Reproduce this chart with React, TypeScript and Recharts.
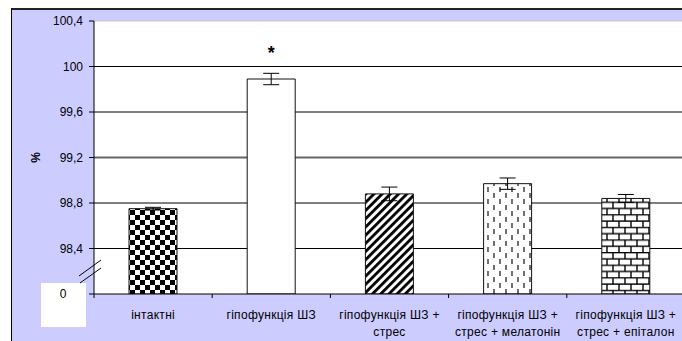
import { Bar, BarChart, CartesianGrid, Cell, ErrorBar, LabelList, XAxis, YAxis } from 'recharts';

const categories = [
  'інтактні',
  'гіпофункція ШЗ',
  'гіпофункція ШЗ +\nстрес',
  'гіпофункція ШЗ +\nстрес + мелатонін',
  'гіпофункція ШЗ +\nстрес + епіталон'
];
const means = [98.75, 99.89, 98.88, 98.97, 98.84];
const errors = [0.012, 0.05, 0.06, 0.05, 0.035];
const marks = ['', '*', '', '', ''];
const yTicks = [98, 98.4, 98.8, 99.2, 99.6, 100, 100.4];
const gridValues = [98.4, 98.8, 99.6, 100];
const fills = ['url(#check)', '#fff', 'url(#diag)', 'url(#dash)', 'url(#brick)'];

const data = categories.map((name, i) => ({ name, value: means[i], err: errors[i], mark: marks[i] }));

const font = 'Arial, "Liberation Sans", sans-serif';

function YTick(props: any) {
  const { x, y, payload } = props;
  // the broken axis: bottom value is shown as 0 in its own box
  if (payload.value === yTicks[0]) {
    return (
      <g>
        <rect x={x - 42} y={y - 11} width={45} height={44} fill="#fff" />
        <text x={x - 20} y={y} dy="0.35em" textAnchor="middle" fontSize={12} fontFamily={font} fill="#000">0</text>
        <line x1={x - 4} y1={y - 18} x2={x + 18} y2={y - 34} stroke="#000" />
        <line x1={x - 3} y1={y - 11} x2={x + 18} y2={y - 26} stroke="#000" />
      </g>
    );
  }
  const label = Number.isInteger(payload.value) ? String(payload.value) : payload.value.toFixed(1).replace('.', ',');
  return (
    <text x={x} y={y} dy="0.35em" textAnchor="end" fontSize={12} fontFamily={font} fill="#000">{label}</text>
  );
}

function XTick(props: any) {
  const { x, y, payload, width, visibleTicksCount } = props;
  const band = width / visibleTicksCount;
  const lines = String(payload.value).split('\n');
  return (
    <g>
      <line x1={x - band / 2} y1={y} x2={x - band / 2} y2={y + 4} stroke="#000" />
      <text x={x} y={y + 25} textAnchor="middle" fontSize={12} letterSpacing={0.3} fontFamily={font} fill="#000">
        {lines.map((l, i) => (
          <tspan key={i} x={x} dy={i === 0 ? 0 : 17}>{l}</tspan>
        ))}
      </text>
    </g>
  );
}

function PercentLabel({ viewBox }: any) {
  const cx = viewBox.x + 1.5;
  const cy = viewBox.y + viewBox.height / 2;
  return (
    <text transform={`translate(${cx},${cy}) rotate(-90)`} dy="0.35em" textAnchor="middle" fontSize={12} fontWeight="bold" fontFamily={font} fill="#000">%</text>
  );
}

export default function App() {
  return (
    <div style={{ position: 'absolute', left: 0, top: 0, width: 682, height: 341, background: '#fff', overflow: 'hidden' }}>
      <div style={{ position: 'absolute', left: 11, top: 8, width: 671, height: 333, background: '#ccccff', borderLeft: '1px solid #000', borderTop: '2px solid #222' }} />
      <BarChart width={682} height={341} data={data} margin={{ top: 21, right: -3, left: 34, bottom: 0 }} style={{ position: 'absolute', left: 0, top: 0 }}>
        <defs>
          <pattern id="check" patternUnits="userSpaceOnUse" width={10} height={10}>
            <rect width={10} height={10} fill="#fff" />
            <rect width={5} height={5} fill="#000" />
            <rect x={5} y={5} width={5} height={5} fill="#000" />
          </pattern>
          <pattern id="diag" patternUnits="userSpaceOnUse" width={5.8} height={5.8} patternTransform="rotate(45)">
            <rect width={5.8} height={5.8} fill="#fff" />
            <rect width={2.8} height={5.8} fill="#000" />
          </pattern>
          <pattern id="dash" patternUnits="userSpaceOnUse" width={12} height={12}>
            <rect width={12} height={12} fill="#fff" />
            <line x1={2} y1={1} x2={2} y2={6} stroke="#222" strokeWidth={1.3} />
            <line x1={8} y1={7} x2={8} y2={12} stroke="#222" strokeWidth={1.3} />
          </pattern>
          <pattern id="brick" patternUnits="userSpaceOnUse" width={12} height={12.6}>
            <rect width={12} height={12.6} fill="#fff" />
            <line x1={0} y1={0.6} x2={12} y2={0.6} stroke="#000" strokeWidth={1.4} />
            <line x1={0} y1={6.9} x2={12} y2={6.9} stroke="#000" strokeWidth={1.4} />
            <line x1={1} y1={0} x2={1} y2={6.9} stroke="#000" strokeWidth={1.4} />
            <line x1={7} y1={6.9} x2={7} y2={12.6} stroke="#000" strokeWidth={1.4} />
          </pattern>
        </defs>
        <CartesianGrid fill="#fff" vertical={false} horizontalValues={gridValues} stroke="#000" strokeOpacity={1} />
        <CartesianGrid vertical={false} horizontalValues={[99.2]} stroke="#666" strokeWidth={2} />
        <CartesianGrid vertical={false} horizontalValues={[100.4]} stroke="#c8c8c8" />
        <XAxis
          dataKey="name"
          interval={0}
          height={47}
          tickSize={0}
          tickMargin={0}
          tick={<XTick />}
          axisLine={{ stroke: '#000' }}
        />
        <YAxis
          width={60}
          domain={[98, 100.4]}
          ticks={yTicks}
          allowDataOverflow
          tickSize={5}
          tickMargin={6}
          tick={<YTick />}
          tickLine={{ stroke: '#000' }}
          axisLine={{ stroke: '#000' }}
          label={{ value: '%', content: <PercentLabel /> }}
        />
        <Bar dataKey="value" barSize={48} stroke="#111" strokeWidth={1} isAnimationActive={false}>
          {data.map((_, i) => (
            <Cell key={i} fill={fills[i]} />
          ))}
          <ErrorBar dataKey="err" width={8} stroke="#000" strokeWidth={1} />
          <LabelList dataKey="mark" position="top" offset={20} fontSize={18} fontWeight="bold" fontFamily={font} fill="#000" />
        </Bar>
      </BarChart>
    </div>
  );
}
